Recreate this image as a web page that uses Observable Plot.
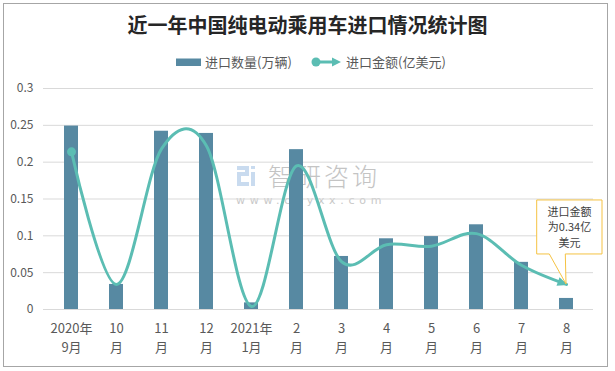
<!DOCTYPE html>
<html><head><meta charset="utf-8">
<script src="https://cdn.jsdelivr.net/npm/d3@7"></script>
<script src="https://cdn.jsdelivr.net/npm/@observablehq/plot@0.6"></script>
<style>
body{margin:0;background:#fff;font-family:"Noto Sans CJK SC","Noto Sans",sans-serif;}
#wrap{position:relative;width:615px;height:371px;overflow:hidden;background:#fff;}
#frame{position:absolute;left:3px;top:3px;width:605px;height:364px;border:1px solid #a6a6a6;box-sizing:border-box;}
#title{position:absolute;left:0;top:12px;width:615px;text-align:center;font-size:20px;line-height:26px;font-weight:bold;color:#262626;}
.lg{position:absolute;top:53px;font-size:13px;line-height:18px;color:#595959;white-space:nowrap;}
#wm{position:absolute;left:0;top:0;}
.wmt{position:absolute;color:#c4c4c4;white-space:nowrap;}
#chart{position:absolute;left:0;top:76px;}
</style></head>
<body>
<div id="wrap">
  <div id="frame"></div>
  <div id="title"></div>
  <svg class="lg" style="left:174px;top:53px" width="30" height="18"><rect x="2" y="5.5" width="25" height="7.5" fill="#5789a2"></rect></svg>
  <span class="lg" id="lg1" style="left:205px"></span>
  <svg class="lg" style="left:308px;top:53px" width="36" height="18"><line x1="8" y1="9" x2="26" y2="9" stroke="#5bbdb3" stroke-width="3"></line><circle cx="8" cy="9" r="4.5" fill="#5bbdb3"></circle><path d="M24,4.5L33,9L24,13.5Z" fill="#5bbdb3"></path></svg>
  <span class="lg" id="lg2" style="left:346px"></span>
  <div id="wm">
    <svg style="position:absolute;left:236px;top:165px" width="22" height="23">
      <path d="M1,1H13V11H5V17H13V21H1V7H9V5H1Z" fill="#c9dbef"></path>
      <path d="M15,7H19V21H15Z" fill="#c9dbef"></path>
      <path d="M15,1H19V4H15Z" fill="#c9dbef"></path>
    </svg>
    <div class="wmt" id="wm1" style="left:268px;top:161px;font-size:25px;line-height:28px;letter-spacing:3px;font-weight:300;"></div>
    <div class="wmt" id="wm2" style="left:236px;top:195px;font-size:11px;line-height:11px;letter-spacing:4.7px;font-family:'DejaVu Sans',sans-serif;color:#c8c8c8;"></div>
  </div>
  <div id="chart"></div>
</div>
<script>
// ---- data ----
const titleText = "近一年中国纯电动乘用车进口情况统计图";
const seriesNames = ["进口数量(万辆)", "进口金额(亿美元)"];
const months = ["2020年\n9月","10\n月","11\n月","12\n月","2021年\n1月","2\n月","3\n月","4\n月","5\n月","6\n月","7\n月","8\n月"];
const quantity = [0.249,0.034,0.242,0.239,0.009,0.217,0.072,0.096,0.099,0.115,0.064,0.015]; // 万辆
const amount = [2.14,0.34,2.18,2.22,0.04,1.95,0.65,0.88,0.86,1.03,0.60,0.34]; // 亿美元 (secondary axis, hidden)
const yTicks = [0,0.05,0.1,0.15,0.2,0.25,0.3];
const amountAxisMax = 3; // hidden secondary axis 0..3 aligned with 0..0.3
const watermark = ["智研咨询", "www.chyxx.com"];
const calloutLines = ["进口金额", "为" + amount[amount.length-1] + "亿", "美元"];

document.getElementById("title").textContent = titleText;
document.getElementById("lg1").textContent = seriesNames[0];
document.getElementById("lg2").textContent = seriesNames[1];
document.getElementById("wm1").textContent = watermark[0];
document.getElementById("wm2").textContent = watermark[1];

const barColor = "#5789a2", lineColor = "#5bbdb3";
const data = months.map((m, i) => ({month: m, q: quantity[i], a: amount[i], ay: amount[i] * yTicks[yTicks.length-1] / amountAxisMax}));

function callout(index, scales) {
  const d = data[data.length-1];
  const x = scales.x(d.month) + scales.x.bandwidth() / 2;
  const y = scales.y(d.ay);
  const g = d3.create("svg:g");
  g.append("path")
    .attr("d", `M${x-29.3},${y-84}H${x+36}V${y-30}H${x-0.7}L${x},${y}L${x-16.7},${y-30}H${x-29.3}Z`)
    .attr("fill", "#fff").attr("stroke", "#f5c242").attr("stroke-width", 1);
  const t = g.append("text").attr("text-anchor", "middle").attr("font-size", 11).attr("fill", "#404040");
  calloutLines.forEach((s, k) => {
    t.append("tspan").attr("x", x + 3.5).attr("y", y - 72 + k * 15.5).attr("dy", "0.35em").text(s);
  });
  return g.node();
}

const plot = Plot.plot({
  width: 615, height: 295,
  marginTop: 12, marginBottom: 62, marginLeft: 43, marginRight: 22,
  style: {background: "transparent", fontFamily: '"Noto Sans CJK SC","Noto Sans",sans-serif', fontSize: "12px", color: "#595959"},
  x: {domain: months, paddingInner: 0.695, paddingOuter: 0.3475, label: null},
  y: {domain: [0, 0.3], label: null},
  marks: [
    Plot.gridY(yTicks, {stroke: "#d9d9d9", strokeOpacity: 1, strokeWidth: 1}),
    Plot.axisY(yTicks, {tickSize: 0, tickPadding: 10, tickFormat: d => String(d), fontSize: 12, label: null}),
    Plot.axisX({tickSize: 0, tickPadding: 10, lineHeight: 1.45, fontSize: 13, label: null}),
    Plot.barY(data, {x: "month", y: "q", fill: barColor}),
    Plot.line(data, {x: "month", y: "ay", stroke: lineColor, strokeWidth: 3, curve: "cardinal", markerEnd: "arrow"}),
    Plot.dot(data.slice(0, 1), {x: "month", y: "ay", r: 4.5, fill: lineColor}),
    callout
  ]
});

// filled arrow head like the original
plot.querySelectorAll("marker").forEach(m => {
  m.setAttribute("viewBox", "-10 -5 12 10");
  m.setAttribute("markerWidth", "12");
  m.setAttribute("markerHeight", "10");
  m.setAttribute("markerUnits", "userSpaceOnUse");
  m.setAttribute("refX", "0"); m.setAttribute("refY", "0");
  m.setAttribute("orient", "auto");
  m.removeAttribute("stroke"); m.removeAttribute("fill");
  m.innerHTML = "";
  const p = document.createElementNS("http://www.w3.org/2000/svg", "path");
  p.setAttribute("d", "M-9,-4.5L1.5,0L-9,4.5Z");
  p.setAttribute("fill", lineColor); p.setAttribute("stroke", "none");
  m.appendChild(p);
});

document.getElementById("chart").appendChild(plot);
</script>
</body></html>
